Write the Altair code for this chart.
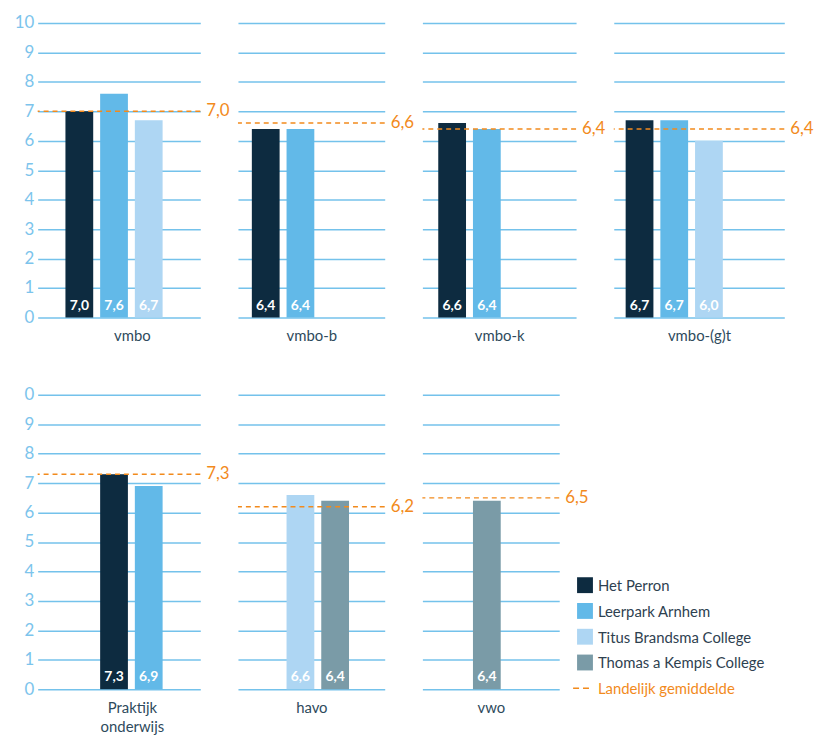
import altair as alt
import pandas as pd

# ---- data ----
panels = ["vmbo", "vmbo-b", "vmbo-k", "vmbo-(g)t", "Praktijk onderwijs", "havo", "vwo"]
averages = [7.0, 6.6, 6.4, 6.4, 7.3, 6.2, 6.5]

schools = ["Het Perron", "Leerpark Arnhem", "Titus Brandsma College", "Thomas a Kempis College"]
school_colors = ["#0d2b40", "#62b9e8", "#aed6f3", "#7a9ba7"]
avg_name = "Landelijk gemiddelde"

bar_panel = ["vmbo", "vmbo", "vmbo",
             "vmbo-b", "vmbo-b",
             "vmbo-k", "vmbo-k",
             "vmbo-(g)t", "vmbo-(g)t", "vmbo-(g)t",
             "Praktijk onderwijs", "Praktijk onderwijs",
             "havo", "havo",
             "vwo"]
bar_slot = [1, 2, 3, 1, 2, 1, 2, 1, 2, 3, 2, 3, 2, 3, 2]
bar_school = ["Het Perron", "Leerpark Arnhem", "Titus Brandsma College",
              "Het Perron", "Leerpark Arnhem",
              "Het Perron", "Leerpark Arnhem",
              "Het Perron", "Leerpark Arnhem", "Titus Brandsma College",
              "Het Perron", "Leerpark Arnhem",
              "Titus Brandsma College", "Thomas a Kempis College",
              "Thomas a Kempis College"]
bar_value = [7.0, 7.6, 6.7, 6.4, 6.4, 6.6, 6.4, 6.7, 6.7, 6.0, 7.3, 6.9, 6.6, 6.4, 6.4]

y_ticks = list(range(11))

# ---- styling / layout ----
FONT = "Lato"
ORANGE = "#f28a1c"
GRID = "#74c2eb"
YLAB = "#7cc4ec"
DARK = "#2e4a5c"

panel_width = [164, 148, 155, 172, 164, 148, 138]
slot_start = [28, 14, 16, 12, 28, 14, 16]
title_x = [95, None, None, None, 95, None, None]
ROW_H = 297
STEP = 35
PAD_INNER = 0.2

bars_df = pd.DataFrame({"panel": bar_panel, "slot": bar_slot,
                        "school": bar_school, "value": bar_value})
bars_df["label"] = bars_df["value"].map(lambda v: f"{v:.1f}".replace(".", ","))
bars_df["base"] = 0.0
avg_df = pd.DataFrame({"panel": panels, "avg": averages})
avg_df["label"] = avg_df["avg"].map(lambda v: f"{v:.1f}".replace(".", ","))

color_scale = alt.Scale(domain=schools, range=school_colors)


def slot_scale(w, s):
    n = 3
    while w - STEP * (n - PAD_INNER) > 2 * STEP:
        n += 1
    used = STEP * (n - PAD_INNER)
    pad_outer = (w - used) / (2 * STEP)
    align = min(1.0, s / (w - used))
    return alt.Scale(domain=list(range(1, n + 1)), paddingInner=PAD_INNER,
                     paddingOuter=pad_outer, align=align)


def make_panel(i, show_labels, top_label_expr=None):
    name = panels[i]
    w = panel_width[i]
    s = slot_start[i]
    bdf = bars_df[bars_df["panel"] == name]
    adf = avg_df[avg_df["panel"] == name]
    title = name.split(" ") if " " in name else name
    ax_kwargs = dict(title=title, labels=False, ticks=False, domain=False,
                     titleFontSize=15, titleColor=DARK, titleFontWeight="normal",
                     titleFont=FONT, titlePadding=11, titleLineHeight=20)
    if title_x[i] is not None:
        ax_kwargs["titleX"] = title_x[i]
    y_kwargs = dict(values=y_ticks, grid=True, gridColor=GRID, gridWidth=1.5,
                    domain=False, ticks=False, labels=show_labels, title=None,
                    labelFontSize=17, labelColor=YLAB, labelFont=FONT, labelPadding=4,
                    labelOverlap=False)
    if top_label_expr:
        y_kwargs["labelExpr"] = top_label_expr
    y_axis = alt.Axis(**y_kwargs)
    y_scale = alt.Scale(domain=[0, 10], nice=False)
    x_enc = alt.X("slot:O", scale=slot_scale(w, s), axis=alt.Axis(**ax_kwargs))
    bars = alt.Chart(bdf).mark_bar().encode(
        x=x_enc, y=alt.Y("value:Q", scale=y_scale, axis=y_axis),
        color=alt.Color("school:N", scale=color_scale, legend=None))
    texts = alt.Chart(bdf).mark_text(
        color="white", fontWeight="bold", fontSize=14, font=FONT,
        baseline="bottom", dy=-5).encode(
        x="slot:O", y=alt.Y("base:Q", scale=y_scale, axis=y_axis), text="label:N")
    rule = alt.Chart(adf).mark_rule(
        color=ORANGE, strokeDash=[5, 4], strokeWidth=1.5).encode(
        y=alt.Y("avg:Q", scale=y_scale, axis=y_axis))
    avg_text = alt.Chart(adf).mark_text(
        color=ORANGE, fontSize=17, font=FONT, align="left", baseline="middle",
        dx=6).encode(y=alt.Y("avg:Q", scale=y_scale, axis=y_axis),
                     x=alt.value(w), text="label:N")
    return alt.layer(bars, texts, rule, avg_text).properties(width=w, height=ROW_H)


# legend panel (sits right of the vwo panel; its marks start left of its own origin)
legend_names = schools + [avg_name]
leg_df = pd.DataFrame({"name": legend_names,
                       "kind": ["box"] * len(schools) + ["line"]})
leg_y = alt.Y("name:N", scale=alt.Scale(type="point", domain=legend_names,
                                        range=[192, 296], padding=0), axis=None)
leg_sq = alt.Chart(leg_df).transform_filter("datum.kind == 'box'").mark_square(
    size=256, opacity=1).encode(
    y=leg_y, x=alt.value(-12),
    color=alt.Color("name:N", scale=color_scale, legend=None))
leg_line = alt.Chart(leg_df).transform_filter("datum.kind == 'line'").mark_rule(
    color=ORANGE, strokeDash=[6, 4], strokeWidth=1.5).encode(
    y=leg_y, x=alt.value(-24), x2=alt.value(-5))
leg_txt = alt.Chart(leg_df).mark_text(
    align="left", baseline="middle", fontSize=15, font=FONT, dy=1).encode(
    y=leg_y, x=alt.value(1), text="name:N",
    color=alt.condition("datum.kind == 'line'", alt.value(ORANGE), alt.value("#2e4150")))
legend = alt.layer(leg_sq, leg_line, leg_txt).properties(width=180, height=ROW_H)

row1 = alt.hconcat(make_panel(0, True), make_panel(1, False),
                   make_panel(2, False), make_panel(3, False),
                   spacing=38, bounds="flush")
row2 = alt.hconcat(
    make_panel(4, True, "datum.value == 10 ? '0' : datum.label"),
    make_panel(5, False), make_panel(6, False), legend,
    spacing=38, bounds="flush").resolve_scale(color="independent")

chart = alt.vconcat(row1, row2, spacing=43).resolve_scale(
    color="independent"
).properties(
    padding={"left": 14, "top": 11, "right": 5, "bottom": 5}
).configure(font=FONT).configure_view(stroke="transparent", strokeWidth=0)

chart.save("out.html", embed_options={"renderer": "svg", "actions": False})
